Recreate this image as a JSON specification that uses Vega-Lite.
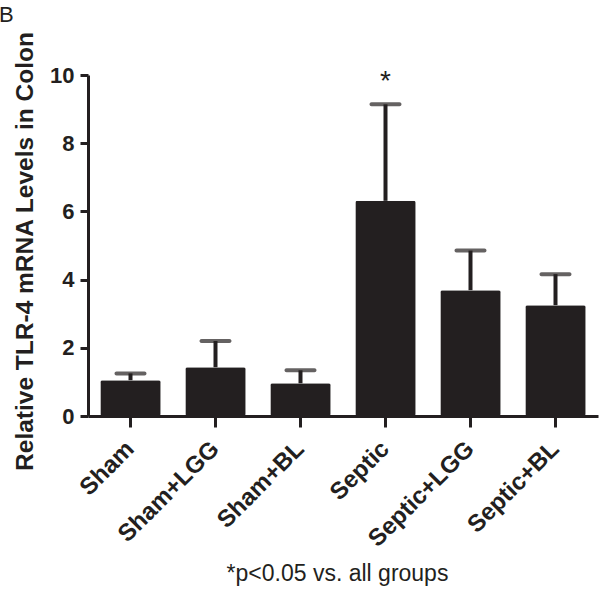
{
  "$schema": "https://vega.github.io/schema/vega-lite/v6.json",
  "autosize": "none",
  "padding": {"left": 88, "top": 75, "right": 2, "bottom": 173},
  "width": 510,
  "height": 341,
  "background": "white",
  "title": {
    "text": "B",
    "anchor": "start",
    "frame": "group",
    "orient": "top",
    "dx": -89,
    "offset": -13,
    "baseline": "alphabetic",
    "font": "Liberation Sans",
    "fontSize": 22,
    "fontWeight": "normal",
    "color": "#231f20"
  },
  "data": {
    "values": [
      {"group": "Sham", "value": 1.05, "upper": 1.25, "sig": ""},
      {"group": "Sham+LGG", "value": 1.43, "upper": 2.2, "sig": ""},
      {"group": "Sham+BL", "value": 0.96, "upper": 1.34, "sig": ""},
      {"group": "Septic", "value": 6.31, "upper": 9.14, "sig": "*"},
      {"group": "Septic+LGG", "value": 3.69, "upper": 4.85, "sig": ""},
      {"group": "Septic+BL", "value": 3.25, "upper": 4.16, "sig": ""}
    ]
  },
  "encoding": {
    "x": {
      "field": "group",
      "type": "nominal",
      "sort": null,
      "scale": {"paddingInner": 0.29, "paddingOuter": 0.145},
      "axis": {
        "title": "*p<0.05 vs. all groups",
        "titleFont": "Liberation Sans",
        "titleFontSize": 23,
        "titleFontWeight": "normal",
        "titleColor": "#231f20",
        "titleX": 249,
        "titleY": 164,
        "titleBaseline": "alphabetic",
        "titleAlign": "center",
        "labelAngle": -45,
        "labelAlign": "right",
        "labelBaseline": "middle",
        "labelFont": "Liberation Sans",
        "labelFontSize": 24,
        "labelFontWeight": "bold",
        "labelColor": "#231f20",
        "labelPadding": 18,
        "tickSize": 11,
        "tickWidth": 3,
        "tickColor": "#231f20",
        "domainWidth": 3,
        "domainColor": "#231f20"
      }
    }
  },
  "layer": [
    {
      "mark": {"type": "bar", "color": "#231f20", "cornerRadius": 2},
      "encoding": {
        "y": {
          "field": "value",
          "type": "quantitative",
          "scale": {"domain": [0, 10], "nice": false},
          "axis": {
            "title": "Relative TLR-4 mRNA Levels in Colon",
            "titleFont": "Liberation Sans",
            "titleFontSize": 24.5,
            "titleFontWeight": "bold",
            "titleColor": "#231f20",
            "titleAngle": -90,
            "titleX": -56,
            "titleY": 176,
            "titleAlign": "center",
            "titleBaseline": "alphabetic",
            "values": [0, 2, 4, 6, 8, 10],
            "grid": false,
            "labelFont": "Liberation Sans",
            "labelFontSize": 22,
            "labelFontWeight": "bold",
            "labelColor": "#231f20",
            "labelPadding": 6,
            "tickSize": 8,
            "tickWidth": 3,
            "tickColor": "#231f20",
            "domainWidth": 3,
            "domainColor": "#231f20"
          }
        }
      }
    },
    {
      "mark": {"type": "rule", "color": "#231f20", "strokeWidth": 4},
      "encoding": {
        "y": {"field": "value", "type": "quantitative"},
        "y2": {"field": "upper"}
      }
    },
    {
      "mark": {"type": "tick", "color": "#231f20", "size": 32, "thickness": 4, "cornerRadius": 2},
      "encoding": {
        "y": {"field": "upper", "type": "quantitative"}
      }
    },
    {
      "mark": {"type": "text", "color": "#231f20", "font": "Liberation Sans", "fontSize": 28, "baseline": "middle", "dy": -22},
      "encoding": {
        "y": {"field": "upper", "type": "quantitative"},
        "text": {"field": "sig"}
      }
    }
  ],
  "config": {
    "view": {"stroke": null}
  }
}
